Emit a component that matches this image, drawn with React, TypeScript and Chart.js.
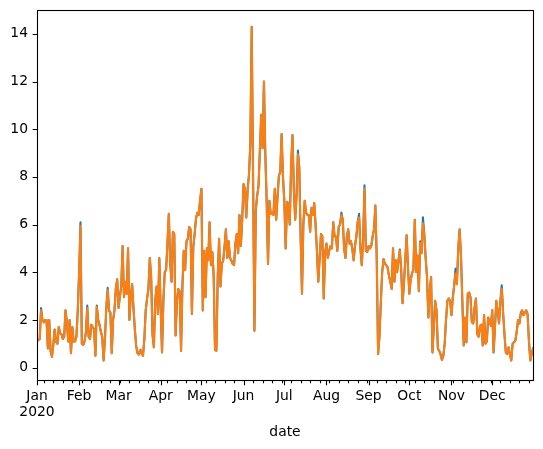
import React, { useEffect, useRef } from 'react';
import { Chart, registerables } from 'chart.js';

Chart.register(...registerables);

// ---- data ----
const startYear = 2020;
const monthLabels = ['Jan', 'Feb', 'Mar', 'Apr', 'May', 'Jun', 'Jul', 'Aug', 'Sep', 'Oct', 'Nov', 'Dec'];
const yTickValues = [0, 2, 4, 6, 8, 10, 12, 14];
const xAxisTitle = 'date';

// daily values, 2020-01-01 .. 2020-12-31 (366 days)
const seriesBlue = [
  1.2, 1.15, 1.2, 2.5, 2.0, 1.9, 2.0, 2.0, 0.8, 2.0,
  0.7, 0.45, 0.95, 1.6, 1.1, 1.0, 1.7, 1.45, 1.4, 1.2,
  1.3, 2.4, 1.9, 1.1, 2.0, 0.6, 1.7, 1.1, 1.1, 1.3,
  2.4, 4.0, 6.1, 1.0, 0.95, 1.1, 1.5, 2.6, 1.3, 1.2,
  1.8, 1.7, 1.6, 0.5, 2.6, 2.0, 1.8, 1.5, 1.3, 0.3,
  1.2, 2.5, 3.35, 2.4, 2.3, 0.6, 2.0, 2.4, 3.3, 3.7,
  2.5, 3.0, 3.4, 5.1, 2.95, 3.6, 3.1, 5.0, 2.0, 3.0,
  3.5, 2.5, 1.6, 0.9, 0.6, 0.55, 0.75, 0.6, 0.5, 1.2,
  2.4, 2.9, 3.3, 4.6, 3.8, 1.4, 0.85, 2.8, 3.4, 2.25,
  4.6, 2.5, 0.64, 2.8, 4.0, 4.1, 5.2, 6.45, 4.4, 3.6,
  5.7, 5.6, 1.35, 2.8, 3.3, 3.2, 0.7, 3.4, 4.9, 4.1,
  5.3, 5.4, 5.9, 5.8, 2.25, 5.05, 5.6, 6.25, 6.5, 6.4,
  7.0, 7.5, 2.4, 4.9, 2.95, 5.0, 4.5, 6.1, 4.3, 4.85,
  3.9, 0.74, 0.71, 3.8, 5.4, 3.4, 4.35, 4.5, 5.05, 5.8,
  4.6, 5.3, 4.6, 4.5, 4.35, 4.3, 5.2, 5.6, 4.8, 6.4,
  5.1, 6.2, 7.7, 7.5, 6.3, 7.45, 8.1, 9.4, 14.3, 8.0,
  1.55, 6.6, 7.2, 7.6, 9.1, 10.6, 9.2, 12.0, 9.0, 7.0,
  4.35, 7.0, 6.45, 6.5, 6.4, 7.5, 6.2, 7.15, 8.05, 8.2,
  9.8, 8.0, 7.0, 5.0, 6.95, 6.9, 6.0, 8.5, 9.75, 7.5,
  6.2, 7.2, 9.1, 8.4, 5.5, 3.1, 6.0, 7.0, 6.5, 6.4,
  6.4, 5.7, 6.7, 6.4, 6.9, 6.0, 4.9, 3.6, 4.6, 5.6,
  5.5, 2.9, 4.8, 5.2, 4.6, 4.9, 5.1, 5.0, 6.1, 5.5,
  5.5, 4.9, 5.9, 6.0, 6.5, 6.2, 5.0, 4.6, 5.5, 5.8,
  5.2, 5.3, 5.0, 4.5, 5.1, 5.5, 6.1, 6.45, 5.0, 4.3,
  5.4, 7.65, 4.9, 4.85, 5.1, 5.0, 5.1, 5.5, 5.8, 6.8,
  4.6, 0.57, 1.3, 2.7, 4.0, 4.55, 4.35, 4.3, 4.2, 3.85,
  3.6, 3.3, 5.0, 3.6, 4.5, 4.0, 4.5, 4.95, 4.1, 2.7,
  3.5, 4.5, 5.55, 4.2, 3.1, 3.7, 3.95, 4.1, 6.2, 4.0,
  4.7, 3.2, 5.3, 4.8, 6.3, 5.6, 4.6, 3.8, 2.1, 3.2,
  3.8, 0.64, 1.7, 2.8, 2.4, 0.8, 0.7, 0.55, 0.32, 0.5,
  1.0, 2.0, 2.8, 2.9, 2.8, 2.2, 2.95, 3.45, 4.15, 3.5,
  5.0, 5.8, 4.7, 2.8, 0.93, 2.1, 1.06, 3.1, 3.15, 2.95,
  1.9, 1.85, 2.5, 2.9, 1.4, 1.3, 1.75, 1.8, 0.93, 2.2,
  1.0, 1.1, 2.1, 1.95, 1.75, 2.4, 0.64, 1.7, 2.8, 2.4,
  1.85, 2.8, 3.45, 2.3, 1.4, 0.64, 0.57, 0.85, 0.57, 0.3,
  1.0, 1.06, 1.13, 1.5, 2.0, 1.85, 2.3, 2.4, 2.2, 2.3,
  2.4, 2.25, 1.13, 0.3, 0.57, 0.8,
];

const seriesOrange = [
  1.2, 1.15, 1.2, 2.4, 2.0, 1.9, 2.0, 2.0, 0.8, 2.0,
  0.7, 0.45, 0.95, 1.6, 1.1, 1.0, 1.7, 1.45, 1.4, 1.2,
  1.3, 2.4, 1.9, 1.1, 2.0, 0.6, 1.7, 1.1, 1.1, 1.3,
  2.4, 4.0, 5.95, 1.0, 0.95, 1.1, 1.5, 2.5, 1.3, 1.2,
  1.8, 1.7, 1.6, 0.5, 2.55, 2.0, 1.8, 1.5, 1.3, 0.3,
  1.2, 2.5, 3.25, 2.4, 2.3, 0.6, 2.0, 2.4, 3.3, 3.7,
  2.5, 3.0, 3.4, 5.1, 2.95, 3.6, 3.1, 5.0, 2.0, 3.0,
  3.5, 2.5, 1.6, 0.9, 0.6, 0.55, 0.75, 0.6, 0.5, 1.2,
  2.4, 2.9, 3.3, 4.6, 3.8, 1.4, 0.85, 2.8, 3.4, 2.25,
  4.6, 2.5, 0.64, 2.8, 4.0, 4.1, 5.2, 6.45, 4.4, 3.6,
  5.7, 5.6, 1.35, 2.8, 3.3, 3.2, 0.7, 3.4, 4.9, 4.1,
  5.3, 5.4, 5.9, 5.8, 2.25, 5.05, 5.6, 6.25, 6.5, 6.4,
  7.0, 7.5, 2.4, 4.9, 2.95, 5.0, 4.5, 6.1, 4.3, 4.85,
  3.9, 0.74, 0.71, 3.8, 5.4, 3.4, 4.35, 4.5, 5.05, 5.8,
  4.6, 5.3, 4.6, 4.5, 4.35, 4.3, 5.2, 5.6, 4.8, 6.4,
  5.1, 6.2, 7.7, 7.5, 6.3, 7.45, 8.1, 9.4, 14.3, 8.0,
  1.55, 6.6, 7.2, 7.6, 9.1, 10.6, 9.2, 12.0, 9.0, 7.0,
  4.35, 7.0, 6.45, 6.5, 6.4, 7.5, 6.2, 7.15, 8.05, 8.2,
  9.8, 8.0, 7.0, 5.0, 6.95, 6.9, 6.0, 8.5, 9.75, 7.5,
  6.2, 7.2, 8.95, 8.4, 5.5, 3.1, 6.0, 7.0, 6.5, 6.4,
  6.4, 5.7, 6.7, 6.4, 6.9, 6.0, 4.9, 3.6, 4.6, 5.6,
  5.5, 2.9, 4.8, 5.2, 4.6, 4.9, 5.1, 5.0, 6.1, 5.5,
  5.5, 4.9, 5.9, 6.0, 6.4, 6.2, 5.0, 4.6, 5.5, 5.8,
  5.2, 5.3, 5.0, 4.5, 5.1, 5.5, 6.1, 6.3, 5.0, 4.3,
  5.4, 7.5, 4.9, 4.85, 5.1, 5.0, 5.1, 5.5, 5.8, 6.8,
  4.6, 0.57, 1.3, 2.7, 4.0, 4.55, 4.35, 4.3, 4.2, 3.85,
  3.6, 3.3, 5.0, 3.6, 4.5, 4.0, 4.5, 4.9, 4.1, 2.7,
  3.5, 4.5, 5.55, 4.2, 3.1, 3.7, 3.95, 4.1, 6.2, 4.0,
  4.7, 3.2, 5.25, 4.8, 6.05, 5.6, 4.6, 3.8, 2.1, 3.2,
  3.8, 0.64, 1.7, 2.8, 2.4, 0.8, 0.7, 0.55, 0.32, 0.5,
  1.0, 2.0, 2.8, 2.9, 2.8, 2.2, 2.95, 3.45, 3.95, 3.5,
  5.0, 5.8, 4.7, 2.8, 0.93, 2.1, 1.06, 3.1, 3.15, 2.95,
  1.9, 1.85, 2.5, 2.9, 1.4, 1.3, 1.75, 1.8, 0.93, 2.2,
  1.0, 1.1, 2.1, 1.95, 1.75, 2.4, 0.64, 1.7, 2.8, 2.4,
  1.85, 2.8, 3.3, 2.3, 1.4, 0.64, 0.57, 0.85, 0.57, 0.3,
  1.0, 1.06, 1.13, 1.5, 2.0, 1.85, 2.25, 2.4, 2.2, 2.3,
  2.4, 2.25, 1.13, 0.3, 0.57, 0.8,
];

// ---- helpers (axis positions derived from the calendar) ----
const DAY_MS = 86400000;
const dayIndex = (y: number, m: number, d: number) =>
  Math.round((Date.UTC(y, m, d) - Date.UTC(startYear, 0, 1)) / DAY_MS);
const monthStarts = monthLabels.map((_, m) => dayIndex(startYear, m, 1));
const lastDay = seriesOrange.length - 1;
const weekStarts: number[] = [];
for (let i = 0; i <= lastDay; i++) {
  const wd = new Date(Date.UTC(startYear, 0, 1 + i)).getUTCDay();
  if (wd === 1) weekStarts.push(i);
}

const FONT = 'DejaVu Sans';
const FS = 13.89;

const framePlugin = {
  id: 'mplFrame',
  afterDraw(chart: any) {
    const { ctx, chartArea, scales } = chart;
    const x = scales.x;
    const y = scales.y;
    const L = Math.floor(chartArea.left) + 0.5;
    const R = Math.floor(chartArea.right) + 0.5;
    const T = Math.floor(chartArea.top) + 0.5;
    const B = Math.floor(chartArea.bottom) + 0.5;
    ctx.save();
    ctx.strokeStyle = '#000';
    ctx.lineWidth = 1.1;
    ctx.lineCap = 'butt';
    ctx.strokeRect(L, T, R - L, B - T);
    ctx.beginPath();
    const major = 4.86;
    const minor = 2.78;
    const majorSet = new Set(monthStarts);
    for (const d of weekStarts) {
      if (majorSet.has(d)) continue;
      const px = Math.round(x.getPixelForValue(d)) + 0.5;
      ctx.moveTo(px, B);
      ctx.lineTo(px, B + minor);
    }
    for (const d of monthStarts) {
      const px = Math.round(x.getPixelForValue(d)) + 0.5;
      ctx.moveTo(px, B);
      ctx.lineTo(px, B + major);
    }
    for (const v of yTickValues) {
      const py = Math.round(y.getPixelForValue(v)) + 0.5;
      ctx.moveTo(L, py);
      ctx.lineTo(L - major, py);
    }
    ctx.stroke();
    ctx.restore();
  },
};

export default function App() {
  const ref = useRef<HTMLCanvasElement | null>(null);

  useEffect(() => {
    if (!ref.current) return;
    const toPoints = (arr: number[]) => arr.map((v, i) => ({ x: i, y: v }));
    const chart = new Chart(ref.current, {
      type: 'line',
      data: {
        datasets: [
          {
            data: toPoints(seriesBlue),
            borderColor: '#1f77b4',
            borderWidth: 2.08,
            pointRadius: 0,
            tension: 0,
            borderJoinStyle: 'round',
            borderCapStyle: 'square',
            order: 2,
          },
          {
            data: toPoints(seriesOrange),
            borderColor: '#ff7f0e',
            borderWidth: 2.08,
            pointRadius: 0,
            tension: 0,
            borderJoinStyle: 'round',
            borderCapStyle: 'square',
            order: 1,
          },
        ],
      },
      options: {
        animation: false,
        responsive: false,
        devicePixelRatio: 1,
        layout: { padding: { left: 0, right: 10, top: 10, bottom: 0 } },
        plugins: {
          legend: { display: false },
          tooltip: { enabled: false },
        },
        scales: {
          x: {
            type: 'linear',
            min: 0,
            max: lastDay,
            grid: { display: false, drawTicks: false, tickLength: 0 },
            border: { display: false },
            afterBuildTicks: (s: any) => {
              s.ticks = monthStarts.map((v) => ({ value: v }));
            },
            afterFit: (s: any) => {
              s.height = 69;
              s.paddingLeft = 0;
              s.paddingRight = 0;
            },
            ticks: {
              autoSkip: false,
              maxRotation: 0,
              minRotation: 0,
              padding: 7.7,
              color: '#000',
              font: { family: FONT, size: FS },
              callback: (value: any) => {
                const idx = monthStarts.indexOf(Number(value));
                if (idx < 0) return '';
                return idx === 0 ? [monthLabels[0], String(startYear)] : monthLabels[idx];
              },
            },
            title: {
              display: true,
              text: xAxisTitle,
              color: '#000',
              font: { family: FONT, size: FS },
              padding: { top: 0, bottom: 8.1 },
            },
          },
          y: {
            type: 'linear',
            min: -0.52,
            max: 15.0,
            grid: { display: false, drawTicks: false, tickLength: 0 },
            border: { display: false },
            afterBuildTicks: (s: any) => {
              s.ticks = yTickValues.map((v) => ({ value: v }));
            },
            afterFit: (s: any) => {
              s.width = 37;
              s.paddingTop = 0;
              s.paddingBottom = 0;
            },
            ticks: {
              padding: 9,
              color: '#000',
              font: { family: FONT, size: FS },
              callback: (value: any) => String(value),
            },
          },
        },
      },
      plugins: [framePlugin],
    } as any);
    return () => chart.destroy();
  }, []);

  return (
    <div style={{ position: 'absolute', left: 0, top: 0, width: 543, height: 449, background: '#fff' }}>
      <canvas ref={ref} width={543} height={449} style={{ display: 'block', width: 543, height: 449 }} />
    </div>
  );
}
